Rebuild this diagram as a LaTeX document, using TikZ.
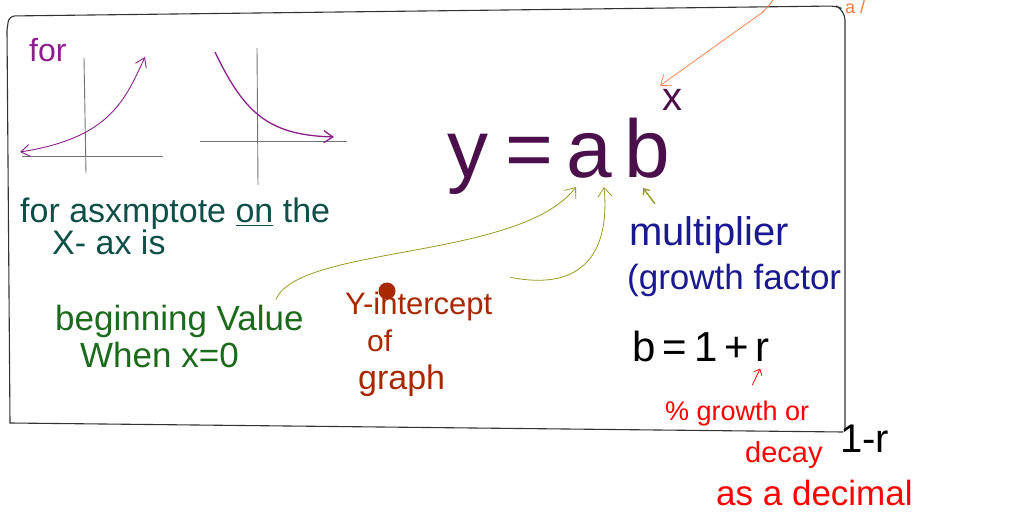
\documentclass[tikz,border=0pt]{standalone}
\usepackage{fontspec}
\setmainfont{Liberation Sans}
\usetikzlibrary{arrows.meta}
\definecolor{eqpurple}{HTML}{4B0F4B}
\definecolor{curvepurple}{HTML}{8E1E8E}
\definecolor{tealnote}{HTML}{0F4F4A}
\definecolor{greennote}{HTML}{1C6A1C}
\definecolor{brick}{HTML}{A82800}
\definecolor{navynote}{HTML}{1A1A90}
\definecolor{olivepen}{HTML}{9A9A1E}
\definecolor{orangepen}{HTML}{FF7A3A}
\newcommand{\pen}[1]{\fontsize{#1}{#1}\selectfont}

\begin{document}
\begin{tikzpicture}[x=1pt,y=-1pt,
    note/.style={anchor=base west,inner sep=0pt},
    barb/.style={-{Straight Barb[length=9pt,width=14pt]}},
    axis/.style={draw=black!55,line width=0.9pt}]
  \useasboundingbox (0,0) rectangle (1009,518);
  % frame
  \draw[black!80,line width=1.1pt] (843,432) -- (10,423) -- (7,30)
    [rounded corners=6pt] -- (9,16) -- (836,6)
    [rounded corners=10pt] -- (845,10) [sharp corners] -- (845,430);
  % the two sketched graphs
  \node[note,text=curvepurple] (for) at (29,62) {\pen{32}for};
  \draw[axis] (84,58) -- (86,173);
  \draw[axis] (22,156) -- (163,156);
  \draw[curvepurple,line width=0.9pt,{Straight Barb[length=9pt,width=12pt]}-{Straight Barb[length=9pt,width=12pt]}]
    (20,152) .. controls (110,138) and (125,100) .. (145,57);
  \draw[axis] (257,48) -- (258,185);
  \draw[axis] (200,141) -- (347,141);
  \draw[curvepurple,line width=1.3pt,-{Straight Barb[length=9pt,width=12pt]}]
    (215,52) .. controls (245,115) and (270,135) .. (334,137);
  \node[note,text=tealnote] (asym) at (20,223) {\pen{34}for asxmptote \underline{on} the};
  \node[note,text=tealnote] (xaxis) at (52,255) {\pen{34}X- ax is};
  % y = a b^x
  \node[note,text=eqpurple] (eqy) at (447,178) {\pen{82}y};
  \node[note,text=eqpurple] (eqeq) at (505,178) {\pen{82}=};
  \node[note,text=eqpurple] (eqa) at (566,178) {\pen{82}a};
  \node[note,text=eqpurple] (eqb) at (624,178) {\pen{82}b};
  \node[note,text=eqpurple] (eqx) at (662,111) {\pen{40}x};
  % orange note at the top edge
  \node[note,text=orangepen] (top) at (845,14) {\pen{18}a /};
  \coordinate (toptail) at (773,0);
  \draw[orangepen,line width=0.7pt,barb] (toptail) .. controls (768,8) and (760,14) .. (763,12)
    -- ([shift={(-2,-4)}]eqx.north west);
  % beginning value
  \node[note,text=greennote] (begin) at (55,331) {\pen{35}beginning Value};
  \node[note,text=greennote] (when) at (80,368) {\pen{35}When x=0};
  \draw[olivepen,line width=0.8pt,barb] ([shift={(-28,-6)}]begin.north east)
    .. controls (300,245) and (520,260) .. ([shift={(10,8)}]eqa.south west);
  % y-intercept
  \node[note,text=brick] (yint) at (345,315) {\pen{31}Y-intercept};
  \node[note,text=brick] (of) at (367,352) {\pen{30}of};
  \node[note,text=brick] (graph) at (358,389) {\pen{34}graph};
  \fill[brick] (387,291) circle (8.5);
  \draw[olivepen,line width=0.8pt,barb] ([shift={(18,-15)}]yint.north east)
    .. controls (585,292) and (610,250) .. ([shift={(-8,8)}]eqa.south east);
  % multiplier
  \node[note,text=navynote] (mult) at (629,246) {\pen{40}multiplier};
  \node[note,text=navynote] (gf) at (627,290) {\pen{35}(growth factor};
  \draw[olivepen,line width=1.4pt,-{Straight Barb[length=5pt,width=8pt]}]
    ([shift={(26,-13)}]mult.north west) -- ([shift={(19,9)}]eqb.south west);
  \node[note] (bform) at (632,362) {\pen{42}b\,=\,1\,+\,r};
  % percent note
  \node[note,text=red] (pct) at (665,420) {\pen{27}\% growth or};
  \node[note,text=red] (decay) at (745,462) {\pen{29}decay};
  \node[note,text=red] (dec) at (716,505) {\pen{35}as a decimal};
  \draw[red,line width=0.8pt,-{Straight Barb[length=5pt,width=9pt]}]
    ([shift={(15,-15)}]pct.north) -- ([shift={(-10,6)}]bform.south east);
  \node[note] (minus) at (840,452) {\pen{40}1-r};
\end{tikzpicture}
\end{document}
